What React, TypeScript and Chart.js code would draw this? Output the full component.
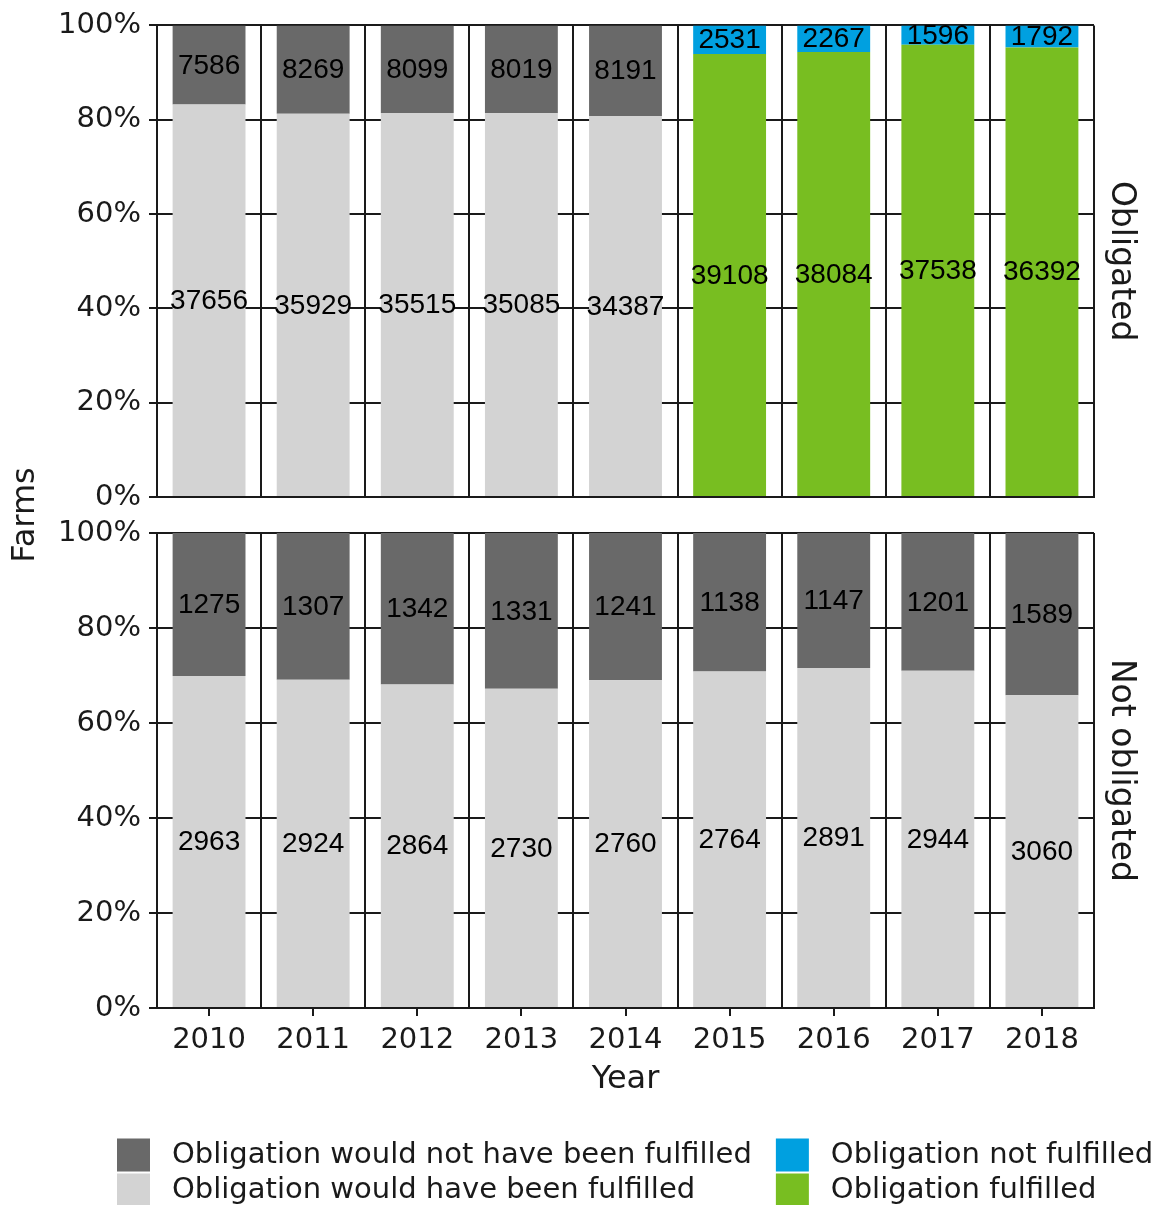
import React, { useEffect, useRef } from 'react';
import { Chart, registerables } from 'chart.js';

Chart.register(...registerables);

// ---------- data ----------
const years = ['2010', '2011', '2012', '2013', '2014', '2015', '2016', '2017', '2018'];

// Panel "Obligated"
const obligatedWouldNot = [7586, 8269, 8099, 8019, 8191, null, null, null, null];
const obligatedWould = [37656, 35929, 35515, 35085, 34387, null, null, null, null];
const obligatedNotFulfilled = [null, null, null, null, null, 2531, 2267, 1596, 1792];
const obligatedFulfilled = [null, null, null, null, null, 39108, 38084, 37538, 36392];

// Panel "Not obligated"
const notObligatedWouldNot = [1275, 1307, 1342, 1331, 1241, 1138, 1147, 1201, 1589];
const notObligatedWould = [2963, 2924, 2864, 2730, 2760, 2764, 2891, 2944, 3060];

const yTickValues = [0, 20, 40, 60, 80, 100];

const seriesNames = {
  wouldNot: 'Obligation would not have been fulfilled',
  would: 'Obligation would have been fulfilled',
  notFulfilled: 'Obligation not fulfilled',
  fulfilled: 'Obligation fulfilled',
};
const seriesColors = {
  wouldNot: '#696969',
  would: '#D3D3D3',
  notFulfilled: '#00A0E0',
  fulfilled: '#78BE21',
};
const panelNames = ['Obligated', 'Not obligated'];

// legend: column-major, 2 columns
const legendColumns = [
  ['wouldNot', 'would'],
  ['notFulfilled', 'fulfilled'],
];

// ---------- styles ----------
const W = 1160;
const H = 1205;
const AXIS_FONT = 'DejaVu Sans';
const LABEL_FONT = '"Liberation Sans", Arial, sans-serif';
const INK = '#1a1a1a';

type Series = { key: keyof typeof seriesNames; counts: (number | null)[] };

function buildDatasets(list: Series[]) {
  const totals = years.map((_, i) => list.reduce((s, d) => s + (d.counts[i] ?? 0), 0));
  return list.map((d) => ({
    type: 'bar' as const,
    label: seriesNames[d.key],
    data: d.counts.map((c, i) => (c == null ? null : (c / totals[i]) * 100)),
    counts: d.counts,
    backgroundColor: seriesColors[d.key],
    borderWidth: 0,
    barPercentage: 0.7,
    categoryPercentage: 1.0,
    yAxisID: 'y',
    xAxisID: 'x',
  }));
}

const segLabels = {
  id: 'segLabels',
  afterDatasetsDraw(chart: any) {
    const ctx = chart.ctx;
    ctx.save();
    ctx.font = `28px ${LABEL_FONT}`;
    ctx.fillStyle = '#000';
    ctx.textAlign = 'center';
    ctx.textBaseline = 'middle';
    chart.data.datasets.forEach((ds: any, di: number) => {
      const meta = chart.getDatasetMeta(di);
      meta.data.forEach((el: any, i: number) => {
        const c = ds.counts[i];
        if (c == null) return;
        const p = el.getProps(['x', 'y', 'base'], true);
        ctx.fillText(String(c), p.x, (p.y + p.base) / 2 + 1);
      });
    });
    ctx.restore();
  },
};

function panelOptions(opts: { strip: string; padTop: number; padBottom: number; showX: boolean }) {
  const gridLine = { color: INK, lineWidth: 2 };
  return {
    responsive: false,
    animation: false as const,
    events: [],
    layout: { padding: { top: opts.padTop, bottom: opts.padBottom, left: 0, right: 0 } },
    plugins: { legend: { display: false }, tooltip: { enabled: false }, title: { display: false } },
    scales: {
      x: {
        stacked: true,
        grid: { ...gridLine, offset: true, drawTicks: false },
        border: { color: INK, width: 2 },
        ticks: {
          display: opts.showX,
          font: { family: AXIS_FONT, size: 29 },
          color: INK,
          padding: 15,
          maxRotation: 0,
          autoSkip: false,
        },
        title: {
          display: opts.showX,
          text: 'Year',
          font: { family: AXIS_FONT, size: 32 },
          color: INK,
          padding: { top: 0, bottom: 9 },
        },
        afterFit: (s: any) => {
          s.height = opts.showX ? 100 : 0;
        },
      },
      y: {
        stacked: true,
        min: 0,
        max: 100,
        afterBuildTicks: (s: any) => {
          s.ticks = yTickValues.map((v) => ({ value: v }));
        },
        ticks: {
          callback: (v: any) => `${v}%`,
          font: { family: AXIS_FONT, size: 29 },
          color: INK,
          padding: 8,
        },
        grid: { ...gridLine, tickLength: 8, drawTicks: true },
        border: { color: INK, width: 2 },
        afterFit: (s: any) => {
          s.width = 157;
        },
      },
      strip: {
        type: 'linear',
        position: 'right',
        display: true,
        grid: { display: false },
        border: { display: false },
        ticks: { display: false },
        title: {
          display: true,
          text: opts.strip,
          font: { family: AXIS_FONT, size: 33 },
          color: INK,
          padding: { top: 20, bottom: 0 },
        },
        afterFit: (s: any) => {
          s.width = 66;
        },
      },
    },
  };
}

const yTitlePlugin = {
  id: 'yTitle',
  afterDraw(chart: any) {
    const ctx = chart.ctx;
    ctx.save();
    ctx.translate(26, 515);
    ctx.rotate(-Math.PI / 2);
    ctx.font = `32px ${AXIS_FONT}`;
    ctx.fillStyle = INK;
    ctx.textAlign = 'center';
    ctx.textBaseline = 'middle';
    ctx.fillText('Farms', 0, 0);
    ctx.restore();
  },
};

const xTickMarks = {
  id: 'xTickMarks',
  afterDraw(chart: any) {
    const ctx = chart.ctx;
    const xs = chart.scales.x;
    const bottom = chart.chartArea.bottom;
    ctx.save();
    ctx.strokeStyle = INK;
    ctx.lineWidth = 2;
    years.forEach((_, i) => {
      const x = Math.round(xs.getPixelForValue(i));
      ctx.beginPath();
      ctx.moveTo(x, bottom);
      ctx.lineTo(x, bottom + 8);
      ctx.stroke();
    });
    ctx.restore();
  },
};

const legendPlugin = {
  id: 'customLegend',
  afterDraw(chart: any) {
    const ctx = chart.ctx;
    const box = 33;
    const rowGap = 35;
    const textGap = 22;
    const colGap = 24;
    const startX = 117;
    const firstRowY = 1155;
    ctx.save();
    ctx.font = `29px ${AXIS_FONT}`;
    ctx.textBaseline = 'middle';
    ctx.textAlign = 'left';
    let x = startX;
    legendColumns.forEach((col) => {
      let maxW = 0;
      col.forEach((key, r) => {
        const cy = firstRowY + r * rowGap;
        ctx.fillStyle = (seriesColors as any)[key];
        ctx.fillRect(x, cy - box / 2, box, box);
        ctx.fillStyle = INK;
        const label = (seriesNames as any)[key];
        ctx.fillText(label, x + box + textGap, cy);
        maxW = Math.max(maxW, ctx.measureText(label).width);
      });
      x = x + box + textGap + maxW + colGap;
    });
    ctx.restore();
  },
};

export default function App() {
  const topRef = useRef<HTMLCanvasElement>(null);
  const bottomRef = useRef<HTMLCanvasElement>(null);

  useEffect(() => {
    const top = new Chart(topRef.current as HTMLCanvasElement, {
      type: 'bar',
      data: {
        labels: years,
        datasets: buildDatasets([
          { key: 'would', counts: obligatedWould },
          { key: 'fulfilled', counts: obligatedFulfilled },
          { key: 'wouldNot', counts: obligatedWouldNot },
          { key: 'notFulfilled', counts: obligatedNotFulfilled },
        ]) as any,
      },
      options: panelOptions({ strip: panelNames[0], padTop: 22, padBottom: H - 497, showX: false }) as any,
      plugins: [segLabels, yTitlePlugin],
    });
    const bottom = new Chart(bottomRef.current as HTMLCanvasElement, {
      type: 'bar',
      data: {
        labels: years,
        datasets: buildDatasets([
          { key: 'would', counts: notObligatedWould },
          { key: 'wouldNot', counts: notObligatedWouldNot },
        ]) as any,
      },
      options: panelOptions({ strip: panelNames[1], padTop: 533, padBottom: H - 1008 - 100, showX: true }) as any,
      plugins: [segLabels, xTickMarks, legendPlugin],
    });
    return () => {
      top.destroy();
      bottom.destroy();
    };
  }, []);

  return (
    <div style={{ position: 'absolute', left: 0, top: 0, width: W, height: H, background: '#fff' }}>
      <canvas ref={bottomRef} width={W} height={H} style={{ position: 'absolute', left: 0, top: 0 }} />
      <canvas ref={topRef} width={W} height={H} style={{ position: 'absolute', left: 0, top: 0 }} />
    </div>
  );
}
